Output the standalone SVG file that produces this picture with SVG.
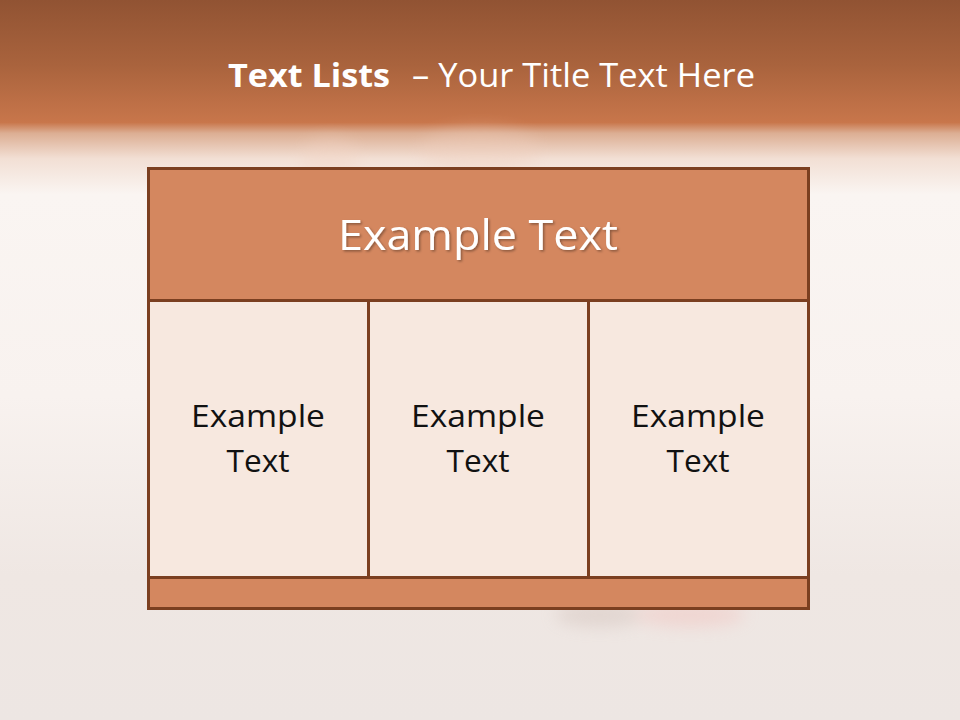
<svg xmlns="http://www.w3.org/2000/svg" width="960" height="720" viewBox="0 0 960 720">
  <defs>
    <linearGradient id="bg" x1="0" y1="0" x2="0" y2="1">
      <stop offset="0" stop-color="#915333"/>
      <stop offset="0.09" stop-color="#a9633d"/>
      <stop offset="0.17" stop-color="#c8764b"/>
      <stop offset="0.185" stop-color="#dcae93"/>
      <stop offset="0.22" stop-color="#f2dfd4"/>
      <stop offset="0.27" stop-color="#faf5f2"/>
      <stop offset="0.55" stop-color="#f8f2ef"/>
      <stop offset="0.8" stop-color="#efe7e3"/>
      <stop offset="1" stop-color="#ede6e3"/>
    </linearGradient>
    <filter id="sh" x="-10%" y="-20%" width="120%" height="140%">
      <feDropShadow dx="1.5" dy="1.5" stdDeviation="1" flood-color="#000" flood-opacity="0.35"/>
    </filter>
    <filter id="blur"><feGaussianBlur stdDeviation="8"/></filter>
  </defs>
  <style>
    .frame { stroke: #7b3f20; stroke-width: 3; }
    .head { fill: #d4875f; }
    .cell { fill: #f7e8df; }
    .wt { fill: #ffffff; font-family: "Open Sans", "Noto Sans", sans-serif; }
    .bt { fill: #111111; font-family: "Open Sans", "Noto Sans", sans-serif; font-size: 31px; text-anchor: middle; }
  </style>
  <rect x="0" y="0" width="960" height="720" fill="url(#bg)"/>
  <g opacity="0.35" filter="url(#blur)">
    <ellipse cx="330" cy="160" rx="30" ry="22" fill="#f3d4c4"/>
    <ellipse cx="480" cy="150" rx="60" ry="22" fill="#f0cfbd"/>
    <ellipse cx="600" cy="615" rx="45" ry="12" fill="#c9b5ad"/>
    <ellipse cx="690" cy="615" rx="55" ry="12" fill="#f2b5b0"/>
  </g>
  <g id="title">
    <text class="wt" x="228" y="87" font-size="32" font-weight="bold" textLength="162" lengthAdjust="spacingAndGlyphs">Text Lists</text>
    <text class="wt" x="412" y="87" font-size="32" textLength="343" lengthAdjust="spacingAndGlyphs">– Your Title Text Here</text>
  </g>
  <g id="header">
    <rect class="head frame" x="148.5" y="168.5" width="660" height="132"/>
    <text class="wt" x="478" y="250" font-size="42" text-anchor="middle" filter="url(#sh)" textLength="280" lengthAdjust="spacingAndGlyphs">Example Text</text>
  </g>
  <g id="col1">
    <rect class="cell frame" x="148.5" y="300.5" width="220" height="277"/>
    <text class="bt" x="258" y="427" textLength="134" lengthAdjust="spacingAndGlyphs">Example</text>
    <text class="bt" x="258" y="472" textLength="63" lengthAdjust="spacingAndGlyphs">Text</text>
  </g>
  <g id="col2">
    <rect class="cell frame" x="368.5" y="300.5" width="220" height="277"/>
    <text class="bt" x="478" y="427" textLength="134" lengthAdjust="spacingAndGlyphs">Example</text>
    <text class="bt" x="478" y="472" textLength="63" lengthAdjust="spacingAndGlyphs">Text</text>
  </g>
  <g id="col3">
    <rect class="cell frame" x="588.5" y="300.5" width="220" height="277"/>
    <text class="bt" x="698" y="427" textLength="134" lengthAdjust="spacingAndGlyphs">Example</text>
    <text class="bt" x="698" y="472" textLength="63" lengthAdjust="spacingAndGlyphs">Text</text>
  </g>
  <g id="footer">
    <rect class="head frame" x="148.5" y="577.5" width="660" height="31"/>
  </g>
  <g id="connectors"></g>
</svg>
